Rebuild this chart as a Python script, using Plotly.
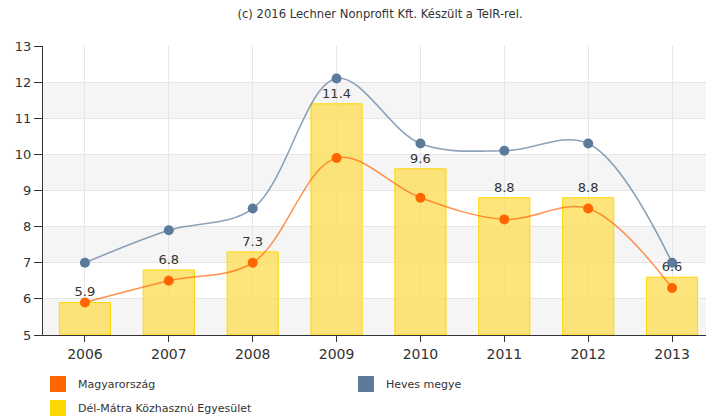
import plotly.graph_objects as go

years = ["2006", "2007", "2008", "2009", "2010", "2011", "2012", "2013"]
del_matra = [5.9, 6.8, 7.3, 11.4, 9.6, 8.8, 8.8, 6.6]
magyarorszag = [5.9, 6.5, 7.0, 9.9, 8.8, 8.2, 8.5, 6.3]
heves = [7.0, 7.9, 8.5, 12.1, 10.3, 10.1, 10.3, 7.0]

FONT = "DejaVu Sans"
fig = go.Figure()

fig.add_trace(go.Bar(
    x=years, y=[v - 5 for v in del_matra], base=5, width=0.61,
    marker=dict(color="rgba(253,222,90,0.8)", line=dict(color="#FFD700", width=1)),
    text=[f"{v:.1f}" for v in del_matra], textposition="outside",
    textfont=dict(family=FONT, size=13, color="#333333"),
    cliponaxis=False, showlegend=False, hoverinfo="skip",
))
fig.add_trace(go.Scatter(
    x=years, y=heves, mode="lines+markers", line=dict(shape="spline", color="rgba(92,122,154,0.7)", width=1.6),
    marker=dict(color="#5C7A9A", size=10), showlegend=False,
))
fig.add_trace(go.Scatter(
    x=years, y=magyarorszag, mode="lines+markers", line=dict(shape="spline", color="rgba(255,110,20,0.75)", width=1.5),
    marker=dict(color="#FF6600", size=10), showlegend=False,
))

# legend entries
legend_items = [("Magyarország", "#FF6600", "legend"), ("Heves megye", "#5C7A9A", "legend"),
                ("Dél-Mátra Közhasznú Egyesület", "#FFD700", "legend2")]
for name, col, lg in legend_items:
    fig.add_trace(go.Scatter(x=[None], y=[None], name=name, mode="markers", legend=lg,
                             marker=dict(color=col, symbol="square", size=16, line=dict(width=0))))

shapes = []
for lo in [5, 7, 9, 11]:
    shapes.append(dict(type="rect", xref="paper", yref="y", x0=0, x1=1, y0=lo, y1=lo + 1,
                       fillcolor="#F5F5F5", line=dict(width=0), layer="below"))

legend_common = dict(orientation="h", xanchor="left", yanchor="middle",
                     entrywidth=263, entrywidthmode="pixels",
                     font=dict(family=FONT, size=11, color="#333333"), itemsizing="trace",
                     bgcolor="rgba(0,0,0,0)")

fig.update_layout(
    width=706, height=410,
    margin=dict(l=35, r=0, t=38, b=83, autoexpand=False),
    plot_bgcolor="white", paper_bgcolor="white",
    barmode="overlay",
    shapes=shapes,
    title=dict(text="(c) 2016 Lechner Nonprofit Kft. Készült a TeIR-rel.", x=0.527, xanchor="center",
               y=0.985, yanchor="middle", font=dict(family=FONT, size=11.6, color="#333333")),
    font=dict(family=FONT, color="#333333"),
    xaxis=dict(type="category", range=[-0.5, 7.5], showgrid=True, gridcolor="#E6E6E6",
               showline=True, linecolor="#333333", linewidth=1, ticks="outside", ticklen=6,
               tickcolor="#333333", tickfont=dict(family=FONT, size=14, color="#333333")),
    yaxis=dict(range=[5, 13], dtick=1, showgrid=True, gridcolor="#E6E6E6", zeroline=False,
               showline=True, linecolor="#333333", linewidth=1, ticks="outside", ticklen=8,
               tickcolor="#333333", tickfont=dict(family=FONT, size=13, color="#333333")),
    legend=dict(x=-0.0075, y=-0.1696, **legend_common),
    legend2=dict(x=-0.0075, y=-0.2526, **legend_common),
    hovermode=False,
)

fig.write_html("out.html")
